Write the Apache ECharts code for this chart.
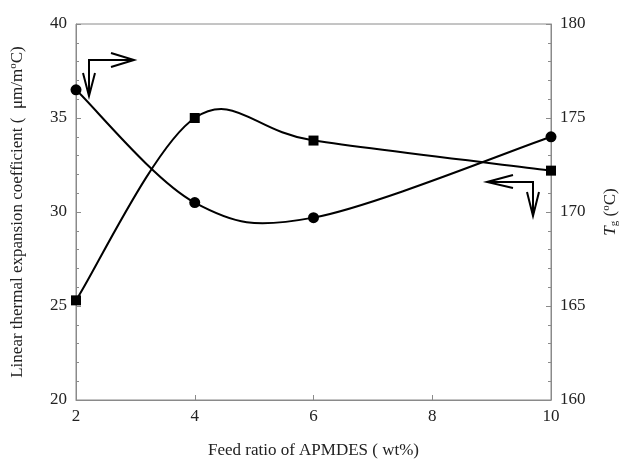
<!DOCTYPE html>
<html>
<head>
<meta charset="utf-8">
<script src="https://cdn.jsdelivr.net/npm/echarts@6/dist/echarts.min.js"></script>
<style>html,body{margin:0;padding:0;background:#fff}#c{width:631px;height:464px}</style>
</head>
<body>
<div id="c"></div>
<script>
var feedRatio = [2, 4, 6, 10];
var cteValues = [36.5, 30.5, 29.7, 34.0];
var tgValues = [165.3, 175.0, 173.8, 172.2];
var leftTicks = [20, 25, 30, 35, 40];
var rightTicks = [160, 165, 170, 175, 180];
var xTicks = [2, 4, 6, 8, 10];

var chart = echarts.init(document.getElementById('c'), null, {renderer: 'canvas'});
var font = '"Liberation Serif", "DejaVu Serif", serif';
var axisGray = '#8a8a8a';
var txt = '#222';

function pairs(xs, ys) { return xs.map(function (x, i) { return [x, ys[i]]; }); }

// Smooth curve (Catmull-Rom style, like spreadsheet "smoothed line") through the data points,
// positioned via the library's coordinate system.
function splineRenderer(ys) {
  return function (params, api) {
    if (params.dataIndex !== 0) return null;
    var P = feedRatio.map(function (x, i) { return api.coord([x, ys[i]]); });
    var n = P.length, children = [];
    for (var i = 0; i < n - 1; i++) {
      var p0 = P[Math.max(i - 1, 0)], p1 = P[i], p2 = P[i + 1], p3 = P[Math.min(i + 2, n - 1)];
      children.push({
        type: 'bezierCurve',
        shape: {
          x1: p1[0], y1: p1[1], x2: p2[0], y2: p2[1],
          cpx1: p1[0] + (p2[0] - p0[0]) / 6, cpy1: p1[1] + (p2[1] - p0[1]) / 6,
          cpx2: p2[0] - (p3[0] - p1[0]) / 6, cpy2: p2[1] - (p3[1] - p1[1]) / 6
        },
        style: {stroke: '#000', lineWidth: 2, fill: null}
      });
    }
    return {type: 'group', children: children};
  };
}

chart.setOption({
  animation: false,
  backgroundColor: '#fff',
  grid: {left: 73, right: 80, top: 24, bottom: 64, show: true, borderColor: axisGray, borderWidth: 1},
  xAxis: {
    type: 'value', min: xTicks[0], max: xTicks[xTicks.length - 1], interval: 2,
    axisLine: {lineStyle: {color: axisGray}},
    axisTick: {inside: true, length: 5, lineStyle: {color: axisGray}},
    splitLine: {show: false},
    axisLabel: {color: txt, fontFamily: font, fontSize: 17, margin: 8},
    name: 'Feed ratio of APMDES ( wt%)', nameLocation: 'middle', nameGap: 42,
    nameTextStyle: {color: txt, fontFamily: font, fontSize: 17}
  },
  yAxis: [{
    type: 'value', min: leftTicks[0], max: leftTicks[leftTicks.length - 1], interval: 5, position: 'left',
    axisLine: {show: true, lineStyle: {color: axisGray}},
    axisTick: {inside: true, length: 5, lineStyle: {color: axisGray}},
    minorTick: {show: true, splitNumber: 5, length: 3, lineStyle: {color: axisGray}},
    splitLine: {show: false},
    axisLabel: {color: txt, fontFamily: font, fontSize: 17, margin: 9},
    name: '{a|Linear thermal expansion coefficient (  μm/m}{s|o}{a|C)}',
    nameLocation: 'middle', nameGap: 48, nameRotate: 90,
    nameTextStyle: {
      rich: {
        a: {color: txt, fontFamily: font, fontSize: 17},
        s: {color: txt, fontFamily: font, fontSize: 11, verticalAlign: 'top', lineHeight: 20, padding: [0, 0, 8, 0]}
      }
    }
  }, {
    type: 'value', min: rightTicks[0], max: rightTicks[rightTicks.length - 1], interval: 5, position: 'right',
    axisLine: {show: true, lineStyle: {color: axisGray}},
    axisTick: {inside: true, length: 5, lineStyle: {color: axisGray}},
    minorTick: {show: true, splitNumber: 5, length: 3, lineStyle: {color: axisGray}},
    splitLine: {show: false},
    axisLabel: {color: txt, fontFamily: font, fontSize: 17, margin: 9},
    name: '{i|T}{sub|g}{a| (}{s|o}{a|C)}',
    nameLocation: 'middle', nameGap: 50, nameRotate: 90,
    nameTextStyle: {
      rich: {
        a: {color: txt, fontFamily: font, fontSize: 17},
        i: {color: txt, fontFamily: font, fontSize: 17, fontStyle: 'italic'},
        sub: {color: txt, fontFamily: font, fontSize: 11, padding: [8, 0, 0, 0]},
        s: {color: txt, fontFamily: font, fontSize: 11, padding: [0, 0, 8, 0]}
      }
    }
  }],
  series: [{
    type: 'custom', yAxisIndex: 0, data: pairs(feedRatio, cteValues),
    encode: {x: 0, y: 1}, renderItem: splineRenderer(cteValues), z: 2, silent: true
  }, {
    type: 'custom', yAxisIndex: 1, data: pairs(feedRatio, tgValues),
    encode: {x: 0, y: 1}, renderItem: splineRenderer(tgValues), z: 2, silent: true
  }, {
    type: 'scatter', yAxisIndex: 0, data: pairs(feedRatio, cteValues), z: 3,
    symbol: 'circle', symbolSize: 11, itemStyle: {color: '#000', opacity: 1}
  }, {
    type: 'scatter', yAxisIndex: 1, data: pairs(feedRatio, tgValues), z: 3,
    symbol: 'rect', symbolSize: 10, itemStyle: {color: '#000', opacity: 1}
  }],
  graphic: [
    {type: 'polyline', shape: {points: [[89, 95], [89, 60], [133, 60]]}, style: {stroke: '#000', lineWidth: 2, fill: null}},
    {type: 'polyline', shape: {points: [[83, 73], [89, 96], [95, 73]]}, style: {stroke: '#000', lineWidth: 2, fill: null}},
    {type: 'polyline', shape: {points: [[111, 53], [134, 60], [111, 67]]}, style: {stroke: '#000', lineWidth: 2, fill: null}},
    {type: 'polyline', shape: {points: [[488, 182], [533, 182], [533, 215]]}, style: {stroke: '#000', lineWidth: 2, fill: null}},
    {type: 'polyline', shape: {points: [[513, 175], [487, 182], [513, 188]]}, style: {stroke: '#000', lineWidth: 2, fill: null}},
    {type: 'polyline', shape: {points: [[527, 192], [533, 216], [539, 192]]}, style: {stroke: '#000', lineWidth: 2, fill: null}}
  ]
});
</script>
</body>
</html>
